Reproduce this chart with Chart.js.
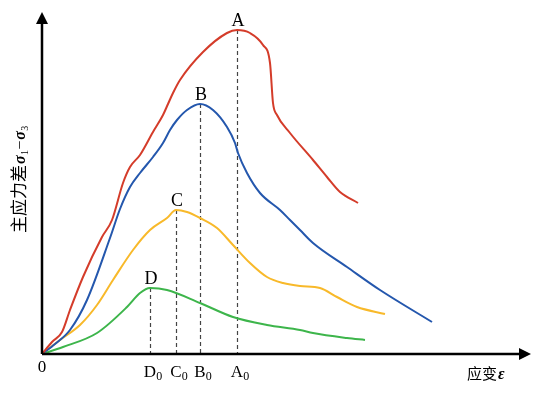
<!DOCTYPE html>
<html>
<head>
<meta charset="utf-8">
<script src="https://cdn.jsdelivr.net/npm/chart.js@4"></script>
<style>
  html, body { margin: 0; padding: 0; background: #fff; }
  #wrap { width: 553px; height: 395px; }
</style>
</head>
<body>
<div id="wrap"><canvas id="chart" width="553" height="395"></canvas></div>
<script>
// strain / stress values (arbitrary units)
const strainA = [0, 10, 20, 28, 41, 60, 70, 81, 88, 98, 111, 121, 126, 131, 138, 161, 185, 195, 208, 221, 228, 231, 235, 248, 271, 285, 298, 316];
const stressA = [0, 12, 22, 44, 77, 117, 134, 171, 187, 199, 222, 239, 250, 261, 274, 302, 321, 324, 321, 309, 291, 251, 239, 221, 194, 177, 162, 151];

const strainB = [0, 13, 28, 45, 68, 78, 88, 98, 111, 121, 128, 135, 145, 158, 171, 185, 193, 196, 205, 218, 238, 248, 258, 271, 305, 338, 390];
const stressB = [0, 10, 24, 54, 116, 145, 167, 181, 197, 211, 224, 234, 244, 250, 244, 227, 211, 201, 181, 161, 144, 134, 124, 111, 87, 64, 32];

const strainC = [0, 18, 38, 55, 71, 91, 108, 125, 134, 145, 158, 175, 191, 208, 225, 241, 258, 278, 295, 315, 343];
const stressC = [0, 14, 29, 49, 74, 104, 124, 136, 144, 142, 136, 126, 109, 91, 77, 71, 68, 66, 57, 47, 40];

const strainD = [0, 21, 55, 85, 98, 108, 125, 158, 191, 225, 258, 271, 305, 323];
const stressD = [0, 7, 21, 47, 61, 66, 64, 51, 37, 29, 24, 21, 16, 14];

const peakNames = ["A", "B", "C", "D"];
const peakStrain = [195, 158, 134, 108];
const peakStress = [324, 250, 144, 66];

const lineColors = ["#d43c2a", "#2457ad", "#f8b92a", "#3db54b"];

const serif = "'Liberation Serif', 'DejaVu Serif', serif";
const cjk = "'Noto Sans CJK SC', sans-serif";

function toPoints(xs, ys) {
  return xs.map((x, i) => ({ x, y: ys[i] }));
}

function drawSub(ctx, main, sub, cx, baseline, mainFont, subFont, subDrop) {
  ctx.font = mainFont;
  const w1 = ctx.measureText(main).width;
  ctx.font = subFont;
  const w2 = ctx.measureText(sub).width;
  const x0 = cx - (w1 + w2) / 2;
  ctx.textAlign = "left";
  ctx.font = mainFont;
  ctx.fillText(main, x0, baseline);
  ctx.font = subFont;
  ctx.fillText(sub, x0 + w1, baseline + subDrop);
}

const decorPlugin = {
  id: "decor",
  beforeDatasetsDraw(chart) {
    const { ctx, scales } = chart;
    const xs = scales.x, ys = scales.y;
    ctx.save();
    ctx.strokeStyle = "#444";
    ctx.lineWidth = 1.2;
    ctx.setLineDash([4, 3]);
    peakStrain.forEach((v, i) => {
      const px = Math.round(xs.getPixelForValue(v)) + 0.5;
      ctx.beginPath();
      ctx.moveTo(px, ys.getPixelForValue(peakStress[i]));
      ctx.lineTo(px, ys.getPixelForValue(0));
      ctx.stroke();
    });
    ctx.restore();
  },
  afterDraw(chart) {
    const { ctx, chartArea: a, scales } = chart;
    const xs = scales.x, ys = scales.y;
    const ox = xs.getPixelForValue(0), oy = ys.getPixelForValue(0);
    ctx.save();
    // axes
    ctx.strokeStyle = "#000";
    ctx.fillStyle = "#000";
    ctx.lineWidth = 2.5;
    ctx.beginPath();
    ctx.moveTo(ox, oy);
    ctx.lineTo(ox, a.top + 8);
    ctx.moveTo(ox, oy);
    ctx.lineTo(a.right - 8, oy);
    ctx.stroke();
    ctx.beginPath();
    ctx.moveTo(ox, a.top);
    ctx.lineTo(ox - 6, a.top + 12);
    ctx.lineTo(ox + 6, a.top + 12);
    ctx.closePath();
    ctx.fill();
    ctx.beginPath();
    ctx.moveTo(a.right, oy);
    ctx.lineTo(a.right - 12, oy - 6);
    ctx.lineTo(a.right - 12, oy + 6);
    ctx.closePath();
    ctx.fill();

    // peak letters
    ctx.textAlign = "center";
    ctx.textBaseline = "alphabetic";
    ctx.font = "18px " + serif;
    peakNames.forEach((n, i) => {
      ctx.fillText(n, xs.getPixelForValue(peakStrain[i]) + 1, ys.getPixelForValue(peakStress[i]) - 4);
    });

    // strain ticks under axis
    peakNames.forEach((n, i) => {
      drawSub(ctx, n, "0", xs.getPixelForValue(peakStrain[i]) + 3, oy + 23, "17px " + serif, "12px " + serif, 3);
    });
    ctx.textAlign = "center";
    ctx.font = "17px " + serif;
    ctx.fillText("0", ox, oy + 18);

    // x title
    ctx.textAlign = "left";
    ctx.font = "15px " + cjk;
    ctx.fillText("应变", 467, oy + 25);
    const wx = ctx.measureText("应变").width;
    ctx.font = "italic bold 16px " + serif;
    ctx.fillText("ε", 467 + wx + 1, oy + 25);

    // y title, rotated
    ctx.translate(25, 233);
    ctx.rotate(-Math.PI / 2);
    ctx.font = "17px " + cjk;
    ctx.fillText("主应力差", 0, 0);
    let x = ctx.measureText("主应力差").width + 1;
    const parts = [
      ["σ", "italic bold 16px " + serif, 0],
      ["1", "10px " + serif, 3],
      ["−", "16px " + serif, 0],
      ["σ", "italic bold 16px " + serif, 0],
      ["3", "10px " + serif, 3]
    ];
    parts.forEach(([t, f, d]) => {
      ctx.font = f;
      ctx.fillText(t, x, d);
      x += ctx.measureText(t).width + 0.5;
    });
    ctx.restore();
  }
};

const series = [
  toPoints(strainA, stressA),
  toPoints(strainB, stressB),
  toPoints(strainC, stressC),
  toPoints(strainD, stressD)
];

new Chart(document.getElementById("chart"), {
  type: "scatter",
  data: {
    datasets: series.map((pts, i) => ({
      data: pts,
      showLine: true,
      borderColor: lineColors[i],
      borderWidth: 2,
      pointRadius: 0,
      cubicInterpolationMode: "monotone",
      fill: false
    }))
  },
  options: {
    responsive: false,
    animation: false,
    layout: { padding: { left: 42, top: 12, right: 22, bottom: 41 } },
    plugins: { legend: { display: false }, tooltip: { enabled: false } },
    scales: {
      x: { type: "linear", min: 0, max: 489, display: false },
      y: { type: "linear", min: 0, max: 342, display: false }
    }
  },
  plugins: [decorPlugin]
});
</script>
</body>
</html>
